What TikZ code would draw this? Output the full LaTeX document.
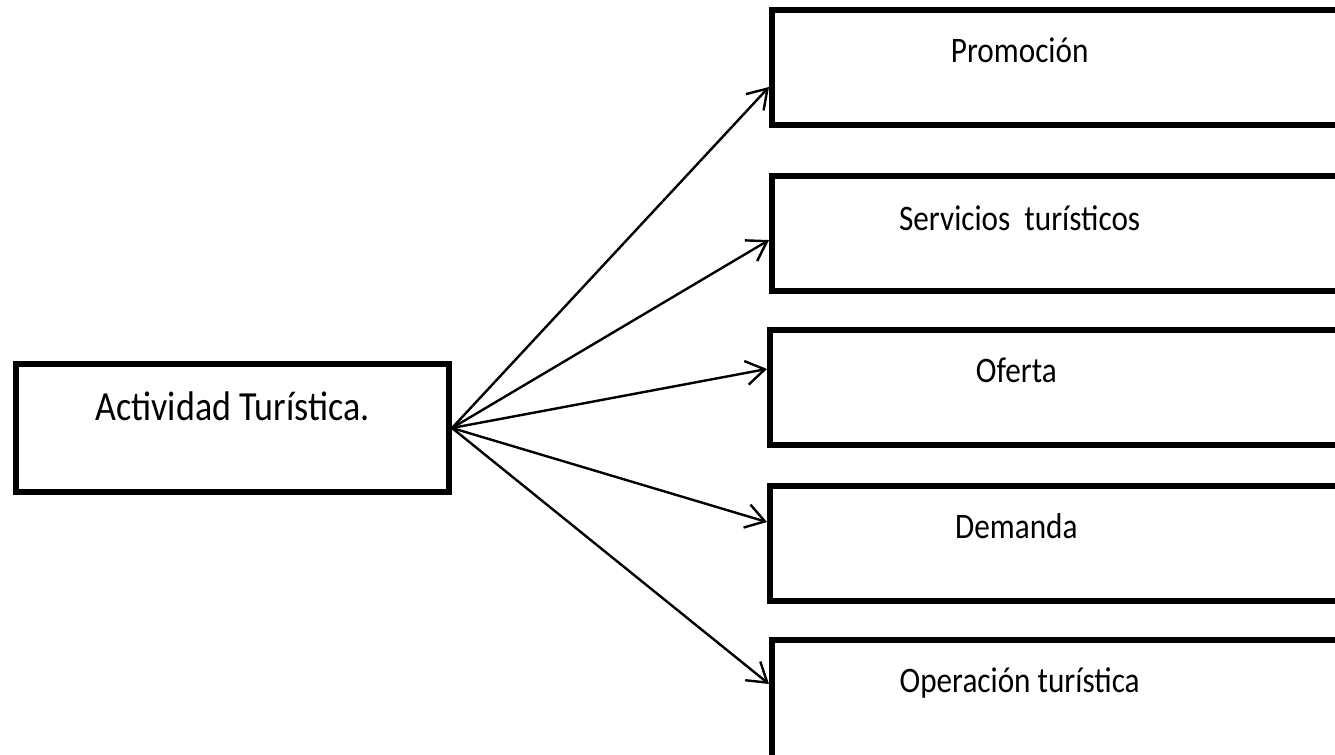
\documentclass[tikz,border=0pt]{standalone}
\usepackage{fontspec}
\setmainfont{Carlito}
\usepackage{graphicx}
\usetikzlibrary{arrows.meta,positioning}
\newcommand{\tall}[1]{\scalebox{1}[1.15]{#1}}
\tikzset{
	box/.style={draw=black, line width=4.5pt, inner sep=0pt},
	lbox/.style={box, minimum width=324.75pt, text height=42pt, text depth=54pt,
			font=\fontsize{27}{31}\selectfont},
	rbox/.style={box, anchor=north west, minimum width=430pt, minimum height=86.25pt},
	rtxt/.style={anchor=base, inner sep=0pt, font=\fontsize{23.4}{28}\selectfont},
	link/.style={-{Straight Barb[length=14pt,width=18pt]}, line width=1.8pt}
}

\begin{document}
\begin{tikzpicture}[x=0.75pt,y=-0.75pt]
	\useasboundingbox (0,0) rectangle (1335,754);
	\clip (0,0) rectangle (1335,754);

	\node [lbox] (act) at (232.5,428) {\tall{Actividad Turística.}};

	\node [rbox] (prom) at (769,7) {};
	\node [rbox] (serv) at (769,173) {};
	\node [rbox] (ofer) at (767,327) {};
	\node [rbox] (dem)  at (767,483) {};
	\node [rbox, minimum height=95pt] (oper) at (769,637) {};

	\node [rtxt] (prom-t) at ([xshift=188pt, yshift=-41.25pt]prom.north west) {\tall{Promoción}};
	\node [rtxt] (serv-t) at ([xshift=188pt, yshift=-42.75pt]serv.north west) {\tall{Servicios\ \ turísticos}};
	\node [rtxt] (ofer-t) at ([xshift=187pt, yshift=-41.25pt]ofer.north west) {\tall{Oferta}};
	\node [rtxt] (dem-t)  at ([xshift=187pt, yshift=-41.25pt]dem.north west) {\tall{Demanda}};
	\node [rtxt] (oper-t) at ([xshift=188pt, yshift=-41.25pt]oper.north west) {\tall{Operación turística}};

	\draw [link] (act.east) -- ([yshift=-14.6pt]prom.west);
	\draw [link] (act.east) -- ([yshift=-4.9pt]serv.west);
	\draw [link] (act.east) -- ([yshift=13.9pt]ofer.west);
	\draw [link] (act.east) -- ([yshift=16.1pt]dem.west);
	\draw [link] (act.east) -- ([yshift=14.5pt]oper.west);
\end{tikzpicture}
\end{document}
